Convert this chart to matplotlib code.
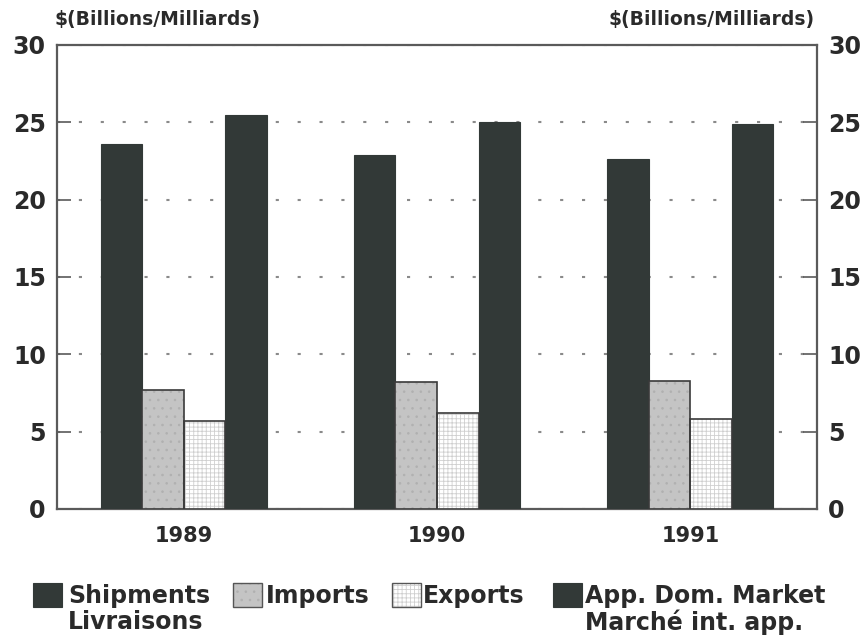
import numpy as np
import matplotlib
matplotlib.use('Agg')
import matplotlib.pyplot as plt
from matplotlib.patches import Rectangle

# Values ($ billions)
years = ['1989', '1990', '1991']
shipments = [23.6, 22.9, 22.6]
imports = [7.7, 8.2, 8.3]
exports = [5.7, 6.2, 5.8]
app_dom_market = [25.5, 25.0, 24.9]

y_ticks = [0, 5, 10, 15, 20, 25, 30]

dark = '#323937'
frame = '#5a5a5a'

plt.rcParams['font.family'] = ['DejaVu Sans']
plt.rcParams['font.weight'] = 'bold'
plt.rcParams['hatch.linewidth'] = 0.6

fig = plt.figure(figsize=(8.62, 6.36), dpi=100)
ax = fig.add_axes([0.0661, 0.1997, 0.8817, 0.7296])

x = np.arange(len(years))
w = 0.164

# Shipments
ax.bar(x - 1.5 * w, shipments, w, color=dark, edgecolor=dark, linewidth=0.8, zorder=3)
# Imports (gray stipple)
ax.bar(x - 0.5 * w, imports, w, color='#c4c4c4', edgecolor='#b0b0b0', hatch='..',
       linewidth=0, zorder=3)
ax.bar(x - 0.5 * w, imports, w, fill=False, edgecolor='#3a3a3a', linewidth=1.2, zorder=4)
# Exports (fine grid)
ax.bar(x + 0.5 * w, exports, w, color='white', edgecolor='#cfcfcf', hatch='++++',
       linewidth=0, zorder=3)
ax.bar(x + 0.5 * w, exports, w, fill=False, edgecolor='#3a3a3a', linewidth=1.2, zorder=4)
# Apparent domestic market
ax.bar(x + 1.5 * w, app_dom_market, w, color=dark, edgecolor=dark, linewidth=0.8, zorder=3)

ax.set_xlim(-0.5, 2.5)
ax.set_ylim(0, 30)
ax.set_yticks(y_ticks)
ax.set_yticklabels([str(t) for t in y_ticks])
ax.set_xticks(x)
ax.set_xticklabels(years, fontsize=15, color='#2a2a2a')

# dotted gridlines behind the bars
ax.yaxis.grid(True, linestyle=(0, (1.5, 9)), color='#8a8a8a', linewidth=1.5, zorder=1)
ax.set_axisbelow(True)

ax.tick_params(axis='y', direction='in', length=10, width=1.2, color=frame,
               labelsize=17, labelcolor='#2a2a2a', left=True, right=True,
               labelleft=True, labelright=True, pad=8)
ax.tick_params(axis='x', length=0, pad=12)

for s in ax.spines.values():
    s.set_color(frame)
    s.set_linewidth(1.6)

# unit labels over both axes
fig.text(55 / 862, 1 - 19 / 636, '$(Billions/Milliards)', fontsize=13.5,
         ha='left', va='center', color='#2a2a2a')
fig.text(815 / 862, 1 - 19 / 636, '$(Billions/Milliards)', fontsize=13.5,
         ha='right', va='center', color='#2a2a2a')

# legend drawn by hand along the bottom
W, H = 862, 636
boxes = [
    (33, dark, None, '#cfcfcf'),
    (233, '#c4c4c4', '..', '#b0b0b0'),
    (392, 'white', '++++', '#cfcfcf'),
    (553, dark, None, '#cfcfcf'),
]
for bx, fc, hatch, hc in boxes:
    r = Rectangle((bx / W, 1 - 607 / H), 29 / W, 24 / H, transform=fig.transFigure,
                  facecolor=fc, edgecolor=hc if hatch else fc, hatch=hatch,
                  linewidth=0 if hatch else 0.8)
    fig.add_artist(r)
    if hatch:
        fig.add_artist(Rectangle((bx / W, 1 - 607 / H), 29 / W, 24 / H,
                                 transform=fig.transFigure, fill=False,
                                 edgecolor='#555555', linewidth=1.0))

legend_fs = 17
tc = '#2a2a2a'
fig.text(68 / W, 1 - 596 / H, 'Shipments', fontsize=legend_fs, va='center', color=tc)
fig.text(68 / W, 1 - 622 / H, 'Livraisons', fontsize=legend_fs, va='center', color=tc)
fig.text(266 / W, 1 - 596 / H, 'Imports', fontsize=legend_fs, va='center', color=tc)
fig.text(423 / W, 1 - 596 / H, 'Exports', fontsize=legend_fs, va='center', color=tc)
fig.text(585 / W, 1 - 596 / H, 'App. Dom. Market', fontsize=legend_fs, va='center', color=tc)
fig.text(585 / W, 1 - 622 / H, 'Marché int. app.', fontsize=legend_fs, va='center', color=tc)

fig.savefig('out.png', dpi=100, facecolor='white')
